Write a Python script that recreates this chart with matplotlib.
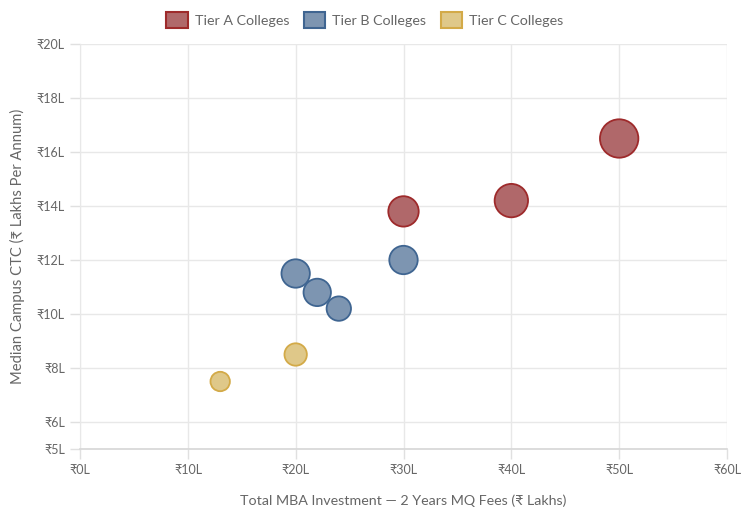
import matplotlib
matplotlib.use("Agg")
import matplotlib.pyplot as plt
from matplotlib.patches import Patch
import numpy as np

plt.rcParams['font.family'] = ['Lato', 'DejaVu Sans']

tier_a_x = [30, 40, 50]
tier_a_y = [13.8, 14.2, 16.5]
tier_a_r = [16, 17.5, 20]

tier_b_x = [20, 22, 24, 30]
tier_b_y = [11.5, 10.8, 10.2, 12.0]
tier_b_r = [15, 14.5, 13, 15]

tier_c_x = [13, 20]
tier_c_y = [7.5, 8.5]
tier_c_r = [10.5, 12]

series = [
    ("Tier A Colleges", tier_a_x, tier_a_y, tier_a_r, "#b0686a", "#9e2a2b"),
    ("Tier B Colleges", tier_b_x, tier_b_y, tier_b_r, "#7d95b1", "#3f6591"),
    ("Tier C Colleges", tier_c_x, tier_c_y, tier_c_r, "#dfc889", "#d3aa48"),
]

x_ticks = [0, 10, 20, 30, 40, 50, 60]
y_ticks = [5, 6, 8, 10, 12, 14, 16, 18, 20]

fig = plt.figure(figsize=(7.52, 5.19), dpi=100)
ax = fig.add_axes([80/752, (519-449)/519, 647/752, 405/519])

for name, xs, ys, rs, fc, ec in series:
    s = [(2 * (r - 0.8) * 0.72) ** 2 for r in rs]
    ax.scatter(xs, ys, s=s, facecolor=fc, edgecolor=ec, linewidth=1.3, zorder=3)

ax.set_xlim(0, 60)
ax.set_ylim(5, 20)
ax.set_xticks(x_ticks)
ax.set_yticks(y_ticks)
ax.set_xticklabels([f"₹{v}L" for v in x_ticks])
ax.set_yticklabels([f"₹{v}L" for v in y_ticks])
ax.grid(True, color="#e8e8e8", linewidth=1, zorder=0)
ax.set_axisbelow(True)
for sp in ["top", "right"]:
    ax.spines[sp].set_visible(False)
ax.spines["left"].set_color("#e8e8e8")
ax.spines["bottom"].set_color("#d6d6d6")
ax.spines["bottom"].set_linewidth(1.2)
ax.tick_params(axis="both", colors="#e0e0e0", labelcolor="#666666", labelsize=9, length=7, width=1, pad=4)

ax.set_xlabel("Total MBA Investment — 2 Years MQ Fees (₹ Lakhs)", fontsize=10.3, color="#666666", labelpad=13)
ax.set_ylabel("Median Campus CTC (₹ Lakhs Per Annum)", fontsize=10.6, color="#666666", labelpad=8)

handles = [Patch(facecolor=fc, edgecolor=ec, linewidth=1.5, label=name) for name, _, _, _, fc, ec in series]
fig.legend(handles=handles, loc="center", bbox_to_anchor=(365/752, 1 - 20/519), ncol=3, frameon=False,
           fontsize=10.3, labelcolor="#666666", handlelength=1.5, handleheight=1.3, columnspacing=1.0,
           handletextpad=0.5)

fig.savefig("out.png", dpi=100)
